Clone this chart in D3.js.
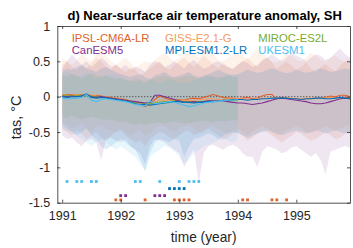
<!DOCTYPE html>
<html><head><meta charset="utf-8">
<script src="https://cdn.jsdelivr.net/npm/d3@7/dist/d3.min.js"></script>
<style>html,body{margin:0;padding:0;background:#fff;}svg{display:block;font-family:"Liberation Sans",Arial,sans-serif;}</style>
</head><body><svg id="c" width="353" height="248"></svg>
<script>
// ---- data ----
const models = ["IPSL-CM6A-LR","GISS-E2.1-G","MIROC-ES2L","CanESM5","MPI-ESM1.2-LR","UKESM1"];
const colors = ["#E0622A","#F59B5E","#77AC30","#7E2F8E","#0072BD","#4DBEEE"];
const startYear = 1991; // monthly values, month index 0 = Jan 1991
const xTicks = [1991,1992,1993,1994,1995];
const yTicks = [1,0.5,0,-0.5,-1,-1.5];

const meanIPSL = [0.02,0.03,0.03,0.02,0.03,0.02,0.01,0.02,0.01,0.0,-0.01,-0.02,
-0.03,-0.04,-0.06,-0.08,-0.11,-0.14,-0.10,-0.04,0.01,-0.02,-0.04,-0.05,
-0.04,-0.05,-0.03,-0.02,-0.03,-0.01,0.01,0.03,0.01,-0.01,-0.02,-0.02,
-0.03,-0.02,-0.01,-0.03,-0.02,0.01,0.03,0.03,-0.03,-0.01,-0.02,-0.03,
-0.03,-0.04,-0.03,-0.03,-0.02,-0.02,-0.01,0.01,0.0,0.02,0.02,0.0];
const meanGISS = [0.03,0.02,0.02,0.03,0.02,0.02,0.03,0.01,0.0,0.0,-0.01,-0.02,
-0.03,-0.05,-0.07,-0.09,-0.1,-0.12,-0.11,-0.08,-0.05,-0.05,-0.06,-0.06,
-0.05,-0.06,-0.05,-0.05,-0.04,-0.04,-0.03,-0.03,-0.04,-0.04,-0.03,-0.03,
-0.03,-0.03,-0.04,-0.04,-0.03,-0.03,-0.02,-0.02,-0.03,-0.03,-0.02,-0.02,
-0.03,-0.03,-0.02,-0.02,-0.03,-0.02,-0.02,-0.01,-0.02,-0.01,-0.01,-0.02];
const meanMIROC = [0.02,0.02,0.01,0.02,0.02,0.01,0.01,0.0,0.0,-0.01,-0.02,-0.03,
-0.04,-0.05,-0.07,-0.08,-0.09,-0.1,-0.1,-0.09,-0.08,-0.07,-0.07,-0.06,
-0.06,-0.07,-0.07,-0.08,-0.07,-0.07,-0.06,-0.06,-0.06,-0.05,-0.05,-0.05,
-0.05];
const meanCanESM = [0.01,0.0,0.01,0.0,0.01,0.03,0.0,-0.01,0.0,-0.01,-0.02,-0.03,
-0.04,-0.05,-0.06,-0.07,-0.08,-0.09,-0.08,0.02,0.02,0.0,-0.02,-0.04,
-0.06,-0.08,-0.08,-0.07,-0.08,-0.07,-0.06,-0.06,-0.05,-0.06,-0.07,-0.08,
-0.09,-0.09,-0.1,-0.11,-0.1,-0.09,-0.07,-0.05,-0.03,-0.02,-0.03,-0.04,
-0.05,-0.06,-0.07,-0.09,-0.1,-0.1,-0.09,-0.07,-0.05,-0.03,-0.02,-0.03];
const meanMPI = [0.0,-0.01,0.0,0.0,0.01,0.04,-0.01,-0.02,-0.01,-0.02,-0.03,-0.04,
-0.05,-0.06,-0.08,-0.1,-0.11,-0.11,-0.12,-0.11,-0.1,-0.09,-0.08,-0.07,
-0.07,-0.08,-0.08,-0.09,-0.08,-0.08,-0.07,-0.07,-0.06,-0.05,-0.05,-0.04,
-0.04,-0.04,-0.05,-0.04,-0.04,-0.03,-0.03,-0.02,-0.02,-0.02,-0.02,-0.03,
-0.03,-0.04,-0.03,-0.03,-0.02,-0.02,-0.03,-0.03,-0.02,-0.01,-0.02,-0.03];
const meanUKESM = [-0.02,-0.03,-0.03,-0.02,-0.01,0.03,-0.05,-0.07,-0.04,-0.03,-0.04,-0.05,
-0.06,-0.07,-0.09,-0.11,-0.12,-0.13,-0.06,-0.1,-0.09,-0.08,-0.07,-0.08,
-0.1,-0.12,-0.14,-0.13,-0.11,-0.09,-0.08,-0.07,-0.06,-0.06,-0.05,-0.05,
-0.04];

const upIPSL = [0.45,0.5,0.42,0.38,0.44,0.4,0.48,0.55,0.5,0.42,0.38,0.45,
0.4,0.35,0.42,0.38,0.3,0.35,0.4,0.45,0.5,0.42,0.38,0.45,
0.5,0.55,0.48,0.42,0.5,0.58,0.52,0.45,0.4,0.48,0.42,0.38,
0.45,0.5,0.55,0.48,0.42,0.5,0.56,0.48,0.4,0.45,0.5,0.44,
0.38,0.42,0.48,0.4,0.35,0.42,0.46,0.4,0.36,0.44,0.5,0.45];
const loIPSL = [-0.45,-0.5,-0.55,-0.48,-0.52,-0.6,-0.55,-0.5,-0.58,-0.62,-0.55,-0.5,
-0.48,-0.55,-0.6,-0.65,-0.62,-0.7,-0.6,-0.55,-0.5,-0.52,-0.58,-0.6,
-0.55,-0.5,-0.48,-0.55,-0.52,-0.5,-0.45,-0.5,-0.55,-0.6,-0.58,-0.52,
-0.5,-0.55,-0.62,-0.58,-0.52,-0.48,-0.5,-0.55,-0.6,-0.65,-0.6,-0.55,
-0.5,-0.52,-0.58,-0.62,-0.6,-0.55,-0.5,-0.55,-0.6,-0.58,-0.52,-0.5];
const upGISS = [0.55,0.5,0.45,0.52,0.6,0.55,0.5,0.6,0.68,0.58,0.5,0.45,
0.5,0.55,0.48,0.42,0.45,0.5,0.48,0.52,0.58,0.62,0.55,0.5,
0.55,0.6,0.7,0.6,0.55,0.62,0.72,0.6,0.52,0.5,0.55,0.6,
0.62,0.58,0.52,0.6,0.68,0.6,0.55,0.5,0.48,0.55,0.6,0.58,
0.52,0.5,0.55,0.62,0.58,0.52,0.5,0.55,0.58,0.52,0.5,0.55];
const loGISS = [-0.35,-0.4,-0.45,-0.42,-0.38,-0.45,-0.5,-0.42,-0.4,-0.45,-0.48,-0.5,
-0.45,-0.5,-0.55,-0.5,-0.48,-0.55,-0.52,-0.45,-0.4,-0.42,-0.48,-0.5,
-0.45,-0.42,-0.4,-0.45,-0.5,-0.48,-0.42,-0.4,-0.45,-0.5,-0.52,-0.48,
-0.45,-0.5,-0.55,-0.5,-0.45,-0.42,-0.45,-0.5,-0.55,-0.52,-0.48,-0.45,
-0.42,-0.45,-0.5,-0.52,-0.48,-0.45,-0.42,-0.45,-0.48,-0.45,-0.42,-0.4];
const upMIROC = [0.3,0.28,0.32,0.3,0.26,0.3,0.33,0.3,0.28,0.3,0.27,0.25,
0.26,0.24,0.22,0.25,0.24,0.22,0.24,0.26,0.28,0.3,0.28,0.26,
0.27,0.29,0.3,0.28,0.26,0.28,0.3,0.29,0.27,0.28,0.3,0.28,
0.27];
const loMIROC = [-0.28,-0.3,-0.27,-0.3,-0.32,-0.3,-0.28,-0.3,-0.32,-0.33,-0.32,-0.34,
-0.36,-0.35,-0.38,-0.4,-0.38,-0.4,-0.38,-0.37,-0.36,-0.38,-0.36,-0.35,
-0.36,-0.38,-0.37,-0.36,-0.35,-0.34,-0.35,-0.36,-0.34,-0.35,-0.34,-0.33,
-0.34];
const upCanESM = [0.4,0.5,0.6,0.52,0.45,0.5,0.42,0.48,0.55,0.5,0.42,0.45,
0.4,0.45,0.38,0.42,0.4,0.35,0.45,0.5,0.48,0.42,0.45,0.5,
0.45,0.4,0.48,0.52,0.45,0.4,0.42,0.48,0.5,0.45,0.42,0.4,
0.45,0.5,0.48,0.42,0.45,0.52,0.55,0.6,0.55,0.5,0.55,0.62,
0.58,0.55,0.5,0.55,0.6,0.58,0.52,0.55,0.62,0.68,0.6,0.55];
const loCanESM = [-0.55,-0.6,-0.58,-0.65,-0.7,-0.62,-0.6,-0.65,-0.9,-0.6,-0.58,-0.62,
-0.65,-0.6,-0.7,-0.75,-0.8,-0.95,-0.7,-0.6,-0.62,-0.65,-0.7,-0.75,
-0.8,-1.0,-0.85,-0.75,-1.22,-0.8,-0.7,-0.68,-0.72,-0.75,-0.7,-0.68,
-0.72,-0.8,-0.85,-0.85,-1.0,-0.78,-0.7,-0.72,-0.75,-0.8,-0.78,-0.72,
-0.7,-0.75,-0.8,-0.85,-0.8,-0.9,-1.1,-0.78,-0.75,-0.72,-0.7,-0.72];
const upMPI = [0.35,0.4,0.38,0.42,0.45,0.4,0.38,0.35,0.4,0.42,0.38,0.35,
0.32,0.3,0.28,0.3,0.32,0.28,0.25,0.3,0.32,0.35,0.3,0.28,
0.3,0.32,0.35,0.3,0.28,0.3,0.32,0.35,0.38,0.35,0.32,0.3,
0.32,0.35,0.38,0.36,0.34,0.35,0.38,0.4,0.38,0.35,0.33,0.35,
0.38,0.36,0.34,0.35,0.38,0.4,0.38,0.35,0.36,0.38,0.4,0.38];
const loMPI = [-0.4,-0.45,-0.5,-0.55,-0.5,-0.45,-0.55,-0.6,-0.7,-0.75,-0.7,-0.65,
-0.6,-0.65,-0.7,-0.75,-0.9,-1.05,-0.8,-0.65,-0.6,-0.62,-0.65,-0.6,
-0.62,-0.85,-0.7,-0.6,-0.58,-0.55,-0.52,-0.55,-0.6,-0.55,-0.52,-0.5,
-0.52,-0.55,-0.58,-0.55,-0.52,-0.5,-0.48,-0.5,-0.52,-0.55,-0.52,-0.5,
-0.48,-0.5,-0.52,-0.5,-0.48,-0.5,-0.52,-0.5,-0.48,-0.5,-0.52,-0.5];
const upUKESM = [0.3,0.35,0.32,0.28,0.3,0.35,0.3,0.25,0.28,0.3,0.32,0.3,
0.28,0.25,0.22,0.2,0.22,0.18,0.25,0.22,0.2,0.22,0.25,0.22,
0.2,0.18,0.2,0.22,0.25,0.28,0.3,0.28,0.25,0.28,0.3,0.32,
0.3];
const loUKESM = [-0.45,-0.5,-0.48,-0.55,-0.6,-0.65,-0.7,-0.65,-0.6,-0.62,-0.7,-0.75,
-0.7,-0.75,-0.8,-0.85,-0.95,-1.05,-0.85,-0.8,-0.75,-0.7,-0.72,-0.78,
-0.85,-0.95,-0.9,-0.8,-0.75,-0.7,-0.68,-0.65,-0.62,-0.6,-0.62,-0.65,
-0.6];

// significance markers (month indices) and the level they are drawn at
const sigUKESM = [1,3,4,6,7,15,16,20,24,26,27,28];   const sigUKESMLevel = -1.2;
const sigMPI = [22,23,24,25];                          const sigMPILevel = -1.3;
const sigCanESM = [12,13,19,20,21];                    const sigCanESMLevel = -1.4;
const sigIPSL = [11,12,17,23,24,25,26,37,38,43,44,46]; const sigIPSLLevel = -1.46;

// ---- chart ----
const means = [meanIPSL,meanGISS,meanMIROC,meanCanESM,meanMPI,meanUKESM];
const ups = [upIPSL,upGISS,upMIROC,upCanESM,upMPI,upUKESM];
const los = [loIPSL,loGISS,loMIROC,loCanESM,loMPI,loUKESM];
const sigs = [[sigUKESM,sigUKESMLevel,5],[sigMPI,sigMPILevel,4],[sigCanESM,sigCanESMLevel,3],[sigIPSL,sigIPSLLevel,0]];

const svg = d3.select("#c");
const L=57.3,R=350,T=26,B=202.7;
const x = d3.scaleLinear().domain([startYear-1/12, startYear+59/12]).range([L,R]);
const y = d3.scaleLinear().domain([-1.5,1]).range([B,T]);
const tx = m => x(startYear + m/12);
const axisCol = "#262626";

svg.append("defs").append("clipPath").attr("id","clip").append("rect")
  .attr("x",L).attr("y",T).attr("width",R-L).attr("height",B-T);
const g = svg.append("g").attr("clip-path","url(#clip)");

// bands
means.forEach((m,i)=>{
  const area = d3.area().x((d,j)=>tx(j)).y0((d,j)=>y(los[i][j])).y1((d,j)=>y(ups[i][j]));
  g.append("path").datum(m).attr("d",area).attr("fill",colors[i]).attr("fill-opacity",0.12).attr("stroke","none");
});
// zero line
g.append("line").attr("x1",L).attr("x2",R).attr("y1",y(0)).attr("y2",y(0))
  .attr("stroke","#333").attr("stroke-width",1).attr("stroke-dasharray","1,2");
// lines
means.forEach((m,i)=>{
  const line = d3.line().x((d,j)=>tx(j)).y(d=>y(d));
  g.append("path").datum(m).attr("d",line).attr("fill","none").attr("stroke",colors[i]).attr("stroke-width",1.1);
});
// significance markers
sigs.forEach(([arr,lev,ci])=>{
  g.selectAll(null).data(arr).enter().append("rect")
    .attr("x",d=>tx(d)-1.4).attr("y",y(lev)-1.4).attr("width",2.8).attr("height",2.8)
    .attr("fill",colors[ci]);
});

// axes (box with inward ticks)
const axB = d3.axisBottom(x).tickValues(xTicks).tickFormat(d3.format("d")).tickSizeInner(-3).tickSizeOuter(0).tickPadding(8);
const axT = d3.axisTop(x).tickValues(xTicks).tickFormat("").tickSizeInner(-3).tickSizeOuter(0);
const axL = d3.axisLeft(y).tickValues(yTicks).tickFormat(d=>d).tickSizeInner(-3).tickSizeOuter(0).tickPadding(7);
const axR = d3.axisRight(y).tickValues(yTicks).tickFormat("").tickSizeInner(-3).tickSizeOuter(0);
const styleAx = sel => { sel.selectAll("path").attr("stroke",axisCol).attr("stroke-width",0.8);
  sel.selectAll("line").attr("stroke",axisCol).attr("stroke-width",0.8);
  sel.selectAll("text").attr("fill",axisCol).style("font-size","12.5px").style("font-family","'Liberation Sans',Arial,sans-serif"); };
svg.append("g").attr("transform",`translate(0,${B})`).call(axB).call(styleAx);
svg.append("g").attr("transform",`translate(0,${T})`).call(axT).call(styleAx);
svg.append("g").attr("transform",`translate(${L},0)`).call(axL).call(styleAx);
svg.append("g").attr("transform",`translate(${R},0)`).call(axR).call(styleAx);

// labels
svg.append("text").attr("x",(L+R)/2+1).attr("y",20).attr("text-anchor","middle")
  .attr("font-weight","bold").attr("font-size","13px").attr("fill","#000")
  .text("d) Near-surface air temperature anomaly, SH");
svg.append("text").attr("x",(L+R)/2).attr("y",242).attr("text-anchor","middle")
  .attr("font-size","13.75px").attr("fill",axisCol).text("time (year)");
svg.append("text").attr("transform",`translate(21,${(T+B)/2+3}) rotate(-90)`).attr("text-anchor","middle")
  .attr("font-size","14.5px").attr("fill",axisCol).text("tas, °C");

// legend
const legX = [71.7,165,258.3], legY=[41.5,54.3];
models.forEach((name,i)=>{
  svg.append("text").attr("x",legX[i%3]).attr("y",legY[Math.floor(i/3)])
    .attr("font-size","11.3px").attr("fill",colors[i]).text(name);
});
</script></body></html>
